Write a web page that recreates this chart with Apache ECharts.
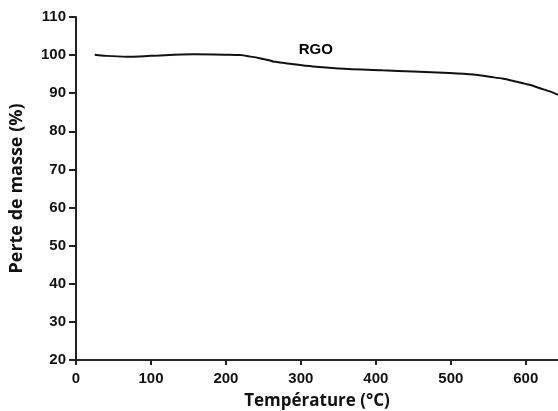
<!DOCTYPE html>
<html><head><meta charset="utf-8">
<script src="https://cdn.jsdelivr.net/npm/echarts@6/dist/echarts.min.js"></script>
<style>html,body{margin:0;padding:0;background:#fff}#c{width:558px;height:411px}</style>
</head><body><div id="c"></div>
<script>
const temperature = [25, 40, 68, 100, 156, 200, 219, 233, 245, 259, 263, 268, 290, 316, 350, 409, 450, 498, 530, 552, 570, 588, 605, 619, 632, 643];
const massLoss   = [100.1, 99.8, 99.6, 99.8, 100.2, 100.1, 100.0, 99.6, 99.2, 98.6, 98.3, 98.2, 97.6, 97.0, 96.5, 96.0, 95.7, 95.3, 94.9, 94.3, 93.8, 93.0, 92.2, 91.3, 90.5, 89.6];
const seriesName = 'RGO';
const labelPos = [320, 101.4];
const yTicks = [20, 30, 40, 50, 60, 70, 80, 90, 100, 110];
const xTicks = [0, 100, 200, 300, 400, 500, 600];

const chart = echarts.init(document.getElementById('c'));
const axisColor = '#222';
chart.setOption({
  animation: false,
  grid: {left: 76, top: 17, right: 0, bottom: 51, containLabel: false, outerBoundsMode: 'none'},
  xAxis: {
    type: 'value', min: 0, max: 643, interval: 100,
    name: 'Température (°C)', nameLocation: 'middle', nameGap: 33,
    nameTextStyle: {fontFamily: 'Open Sans', fontWeight: 'bold', fontSize: 17, color: '#111'},
    axisLine: {show: true, lineStyle: {color: axisColor, width: 2}},
    axisTick: {show: true, inside: false, length: 5, lineStyle: {color: axisColor, width: 2}},
    axisLabel: {inside: false, fontFamily: 'Liberation Sans', fontWeight: 'bold', fontSize: 15, color: '#111', margin: 11,
      showMaxLabel: false,
      formatter: v => xTicks.includes(v) ? String(v) : ''},
    splitLine: {show: false}
  },
  yAxis: {
    type: 'value', min: 20, max: 110, interval: 10,
    name: 'Perte de masse (%)', nameLocation: 'middle', nameGap: 50, nameRotate: 90,
    nameTextStyle: {fontFamily: 'Open Sans', fontWeight: 'bold', fontSize: 18, color: '#111'},
    axisLine: {show: true, lineStyle: {color: axisColor, width: 2}},
    axisTick: {show: true, inside: false, length: 7, lineStyle: {color: axisColor, width: 2}},
    axisLabel: {inside: false, fontFamily: 'Liberation Sans', fontWeight: 'bold', fontSize: 15, color: '#111', margin: 10,
      formatter: v => yTicks.includes(v) ? String(v) : ''},
    splitLine: {show: false}
  },
  series: [{
    name: seriesName, type: 'line', showSymbol: false, smooth: 0.3,
    data: temperature.map((t, i) => [t, massLoss[i]]),
    lineStyle: {color: '#111', width: 2},
    markPoint: {
      symbol: 'circle', symbolSize: 0, silent: true,
      itemStyle: {color: 'transparent'},
      data: [{coord: labelPos}],
      label: {show: true, position: 'inside', formatter: seriesName, fontFamily: 'Liberation Sans', fontWeight: 'bold', fontSize: 15, color: '#000'}
    }
  }]
});
</script></body></html>
